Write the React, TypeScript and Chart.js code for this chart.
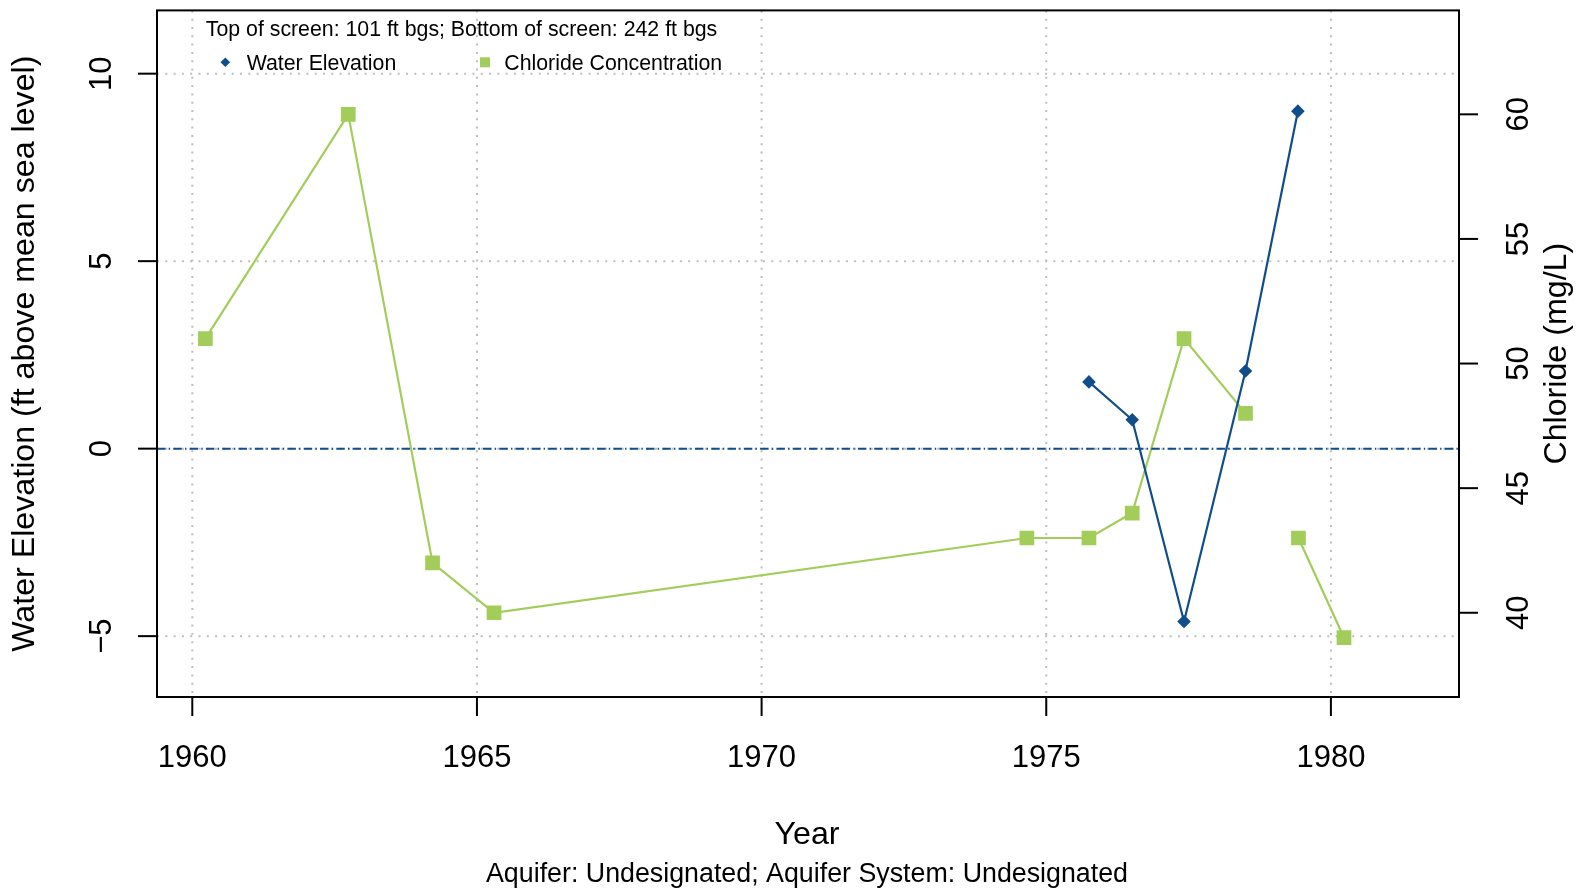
import React, { useEffect, useRef } from "react";
import { Chart, registerables } from "chart.js";

Chart.register(...registerables);

// ---- data ----
const waterYears = [1975.75, 1976.51, 1977.42, 1978.5, 1979.42];
const waterElevation = [1.78, 0.77, -4.61, 2.07, 9.0];

const chlorideYears = [1960.23, 1962.74, 1964.22, 1965.3, 1974.66, 1975.75, 1976.51, 1977.42, 1978.5, null, 1979.43, 1980.23];
const chloride = [51, 60, 42, 40, 43, 43, 44, 51, 48, null, 43, 39];

const xTicks = [1960, 1965, 1970, 1975, 1980];
const xTickLabels = ["1960", "1965", "1970", "1975", "1980"];
const yTicks = [-5, 0, 5, 10];
const yTickLabels = ["\u22125", "0", "5", "10"];
const y2Ticks = [40, 45, 50, 55, 60];
const y2TickLabels = ["40", "45", "50", "55", "60"];

const xTitle = "Year";
const subTitle = "Aquifer: Undesignated; Aquifer System: Undesignated";
const yTitle = "Water Elevation (ft above mean sea level)";
const y2Title = "Chloride (mg/L)";
const legendHeader = "Top of screen: 101 ft bgs; Bottom of screen: 242 ft bgs";
const seriesNames = ["Water Elevation", "Chloride Concentration"];

const BLUE = "#104E8B";
const GREEN = "#A2CD5A";
const FONT = '"Liberation Sans", Arial, Helvetica, sans-serif';
const TICK_FS = 31;
const TITLE_FS = 32.2;

function drawText(ctx: CanvasRenderingContext2D, s: string, x: number, y: number, size: number, align: CanvasTextAlign = "center", rot = 0) {
  ctx.save();
  ctx.translate(x, y);
  if (rot) ctx.rotate(rot);
  ctx.font = `${size}px ${FONT}`;
  ctx.textAlign = align;
  ctx.textBaseline = "alphabetic";
  ctx.fillStyle = "#000";
  ctx.fillText(s, 0, 0);
  ctx.restore();
}

const decor = {
  id: "rdecor",
  beforeDatasetsDraw(chart: any) {
    const { ctx, chartArea: a, scales } = chart;
    const x = scales.x, y = scales.y;
    ctx.save();
    ctx.strokeStyle = "#bdbdbd";
    ctx.lineWidth = 2;
    ctx.setLineDash([2, 6.3]);
    xTicks.forEach((t) => {
      const px = x.getPixelForValue(t);
      ctx.beginPath();
      ctx.moveTo(px, a.top);
      ctx.lineTo(px, a.bottom);
      ctx.stroke();
    });
    yTicks.forEach((t) => {
      const py = y.getPixelForValue(t);
      ctx.beginPath();
      ctx.moveTo(a.left, py);
      ctx.lineTo(a.right, py);
      ctx.stroke();
    });
    ctx.restore();
  },
  afterDatasetsDraw(chart: any) {
    const { ctx, chartArea: a, scales } = chart;
    const x = scales.x, y = scales.y, y2 = scales.y2;
    ctx.save();
    // zero reference line (dot-dash)
    ctx.strokeStyle = BLUE;
    ctx.lineWidth = 2;
    ctx.setLineDash([8.5, 3.2, 1.4, 3.2]);
    const pz = y.getPixelForValue(0);
    ctx.beginPath();
    ctx.moveTo(a.left, pz);
    ctx.lineTo(a.right, pz);
    ctx.stroke();
    ctx.setLineDash([]);

    // box
    ctx.strokeStyle = "#000";
    ctx.lineWidth = 2;
    ctx.strokeRect(a.left, a.top, a.right - a.left, a.bottom - a.top);

    const TL = 19;
    xTicks.forEach((t, i) => {
      const px = x.getPixelForValue(t);
      ctx.beginPath();
      ctx.moveTo(px, a.bottom);
      ctx.lineTo(px, a.bottom + TL);
      ctx.stroke();
      drawText(ctx, xTickLabels[i], px, 767, TICK_FS);
    });
    yTicks.forEach((t, i) => {
      const py = y.getPixelForValue(t);
      ctx.beginPath();
      ctx.moveTo(a.left, py);
      ctx.lineTo(a.left - TL, py);
      ctx.stroke();
      ctx.save();
      ctx.translate(100, py);
      ctx.rotate(-Math.PI / 2);
      ctx.font = `${TICK_FS}px ${FONT}`;
      ctx.textAlign = "center";
      ctx.fillStyle = "#000";
      ctx.fillText(yTickLabels[i], 0, 0.358 * TICK_FS);
      ctx.restore();
    });
    y2Ticks.forEach((t, i) => {
      const py = y2.getPixelForValue(t);
      ctx.beginPath();
      ctx.moveTo(a.right, py);
      ctx.lineTo(a.right + TL, py);
      ctx.stroke();
      ctx.save();
      ctx.translate(1517, py);
      ctx.rotate(-Math.PI / 2);
      ctx.font = `${TICK_FS}px ${FONT}`;
      ctx.textAlign = "center";
      ctx.fillStyle = "#000";
      ctx.fillText(y2TickLabels[i], 0, 0.358 * TICK_FS);
      ctx.restore();
    });

    const cy = (a.top + a.bottom) / 2;
    drawText(ctx, yTitle, 34, cy, TITLE_FS, "center", -Math.PI / 2);
    drawText(ctx, y2Title, 1565.5, cy, TITLE_FS, "center", -Math.PI / 2);
    drawText(ctx, xTitle, 807, 844, TITLE_FS);
    drawText(ctx, subTitle, 807, 882, 26.8);

    // legend
    drawText(ctx, legendHeader, 205.8, 36, 21.3, "left");
    ctx.fillStyle = BLUE;
    ctx.beginPath();
    const dx = 225.3, dy = 62.3, r = 4.8;
    ctx.moveTo(dx, dy - r);
    ctx.lineTo(dx + r, dy);
    ctx.lineTo(dx, dy + r);
    ctx.lineTo(dx - r, dy);
    ctx.closePath();
    ctx.fill();
    drawText(ctx, seriesNames[0], 246.7, 70, 21.3, "left");
    ctx.fillStyle = GREEN;
    ctx.fillRect(480, 57.3, 10, 10);
    drawText(ctx, seriesNames[1], 504.3, 70, 21.3, "left");
    ctx.restore();
  },
};

export default function App() {
  const ref = useRef<HTMLCanvasElement>(null);
  useEffect(() => {
    const canvas = ref.current!;
    const chart = new Chart(canvas, {
      type: "scatter",
      data: {
        datasets: [
          {
            label: seriesNames[0],
            data: waterYears.map((yr, i) => ({ x: yr, y: waterElevation[i] })),
            yAxisID: "y",
            showLine: true,
            borderColor: BLUE,
            backgroundColor: BLUE,
            borderWidth: 2.2,
            pointStyle: "rectRot",
            pointRadius: 6.8,
            pointHoverRadius: 6.8,
            pointBorderWidth: 0,
            spanGaps: false,
          },
          {
            label: seriesNames[1],
            data: chlorideYears.map((yr, i) => ({ x: yr as any, y: chloride[i] as any })),
            yAxisID: "y2",
            showLine: true,
            borderColor: GREEN,
            backgroundColor: GREEN,
            borderWidth: 2.2,
            pointStyle: "rect",
            pointRadius: 10.4,
            pointHoverRadius: 10.4,
            pointBorderWidth: 0,
            spanGaps: false,
          },
        ],
      } as any,
      options: {
        responsive: false,
        animation: false,
        events: [],
        layout: { padding: { left: 157, right: 129, top: 10, bottom: 193 } },
        plugins: { legend: { display: false }, tooltip: { enabled: false } },
        scales: {
          x: { type: "linear", min: 1959.38, max: 1982.25, display: false },
          y: { type: "linear", position: "left", min: -6.623, max: 11.687, display: false },
          y2: { type: "linear", position: "right", min: 36.62, max: 64.17, display: false },
        },
      } as any,
      plugins: [decor],
    });
    return () => chart.destroy();
  }, []);
  return (
    <div style={{ position: "absolute", left: 0, top: 0, width: 1588, height: 890, background: "#fff" }}>
      <canvas ref={ref} width={1588} height={890} style={{ display: "block" }} />
    </div>
  );
}
